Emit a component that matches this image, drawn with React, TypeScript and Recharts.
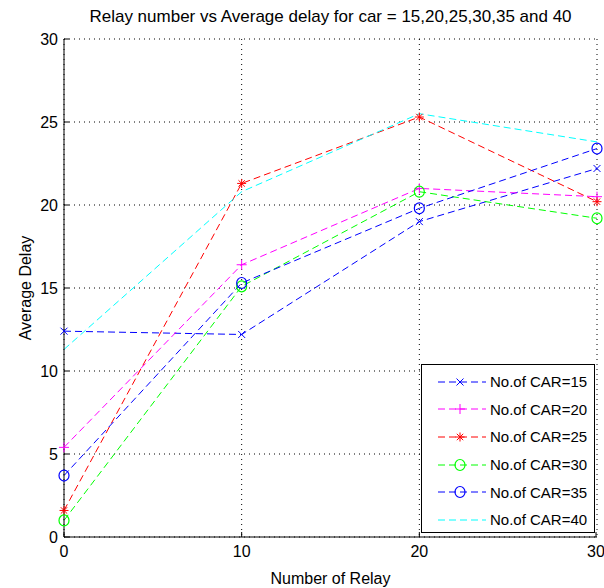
import React from 'react';
import { LineChart, Line, XAxis, YAxis, CartesianGrid } from 'recharts';

const relays = [0, 10, 20, 30];
const car15 = [12.4, 12.2, 19.0, 22.2];
const car20 = [5.4, 16.4, 21.0, 20.5];
const car25 = [1.6, 21.3, 25.3, 20.2];
const car30 = [1.0, 15.1, 20.8, 19.2];
const car35 = [3.7, 15.3, 19.8, 23.4];
const car40 = [11.3, 20.8, 25.5, 23.8];
const yTicks = [0, 5, 10, 15, 20, 25, 30];

const series = [
  { key: 'c15', name: 'No.of CAR=15', color: '#0000ff', marker: 'x', values: car15 },
  { key: 'c20', name: 'No.of CAR=20', color: '#ff00ff', marker: '+', values: car20 },
  { key: 'c25', name: 'No.of CAR=25', color: '#ff0000', marker: '*', values: car25 },
  { key: 'c30', name: 'No.of CAR=30', color: '#00ff00', marker: 'o', values: car30 },
  { key: 'c35', name: 'No.of CAR=35', color: '#0000ff', marker: 'o', values: car35 },
  { key: 'c40', name: 'No.of CAR=40', color: '#00ffff', marker: 'none', values: car40 },
];

const data = relays.map((r, i) => {
  const row: any = { relay: r };
  series.forEach((s) => { row[s.key] = s.values[i]; });
  return row;
});

const FONT = "'Liberation Sans', Arial, sans-serif";
const DASH = '7 4';

const Marker = ({ cx, cy, shape, color }: any) => {
  if (shape === 'x') {
    return (
      <g stroke={color} strokeWidth={1}>
        <line x1={cx - 3.5} y1={cy - 3.5} x2={cx + 3.5} y2={cy + 3.5} />
        <line x1={cx - 3.5} y1={cy + 3.5} x2={cx + 3.5} y2={cy - 3.5} />
      </g>
    );
  }
  if (shape === '+') {
    return (
      <g stroke={color} strokeWidth={1}>
        <line x1={cx - 5} y1={cy} x2={cx + 5} y2={cy} />
        <line x1={cx} y1={cy - 5} x2={cx} y2={cy + 5} />
      </g>
    );
  }
  if (shape === '*') {
    return (
      <g stroke={color} strokeWidth={1}>
        <line x1={cx - 4.5} y1={cy} x2={cx + 4.5} y2={cy} />
        <line x1={cx} y1={cy - 4.5} x2={cx} y2={cy + 4.5} />
        <line x1={cx - 3.2} y1={cy - 3.2} x2={cx + 3.2} y2={cy + 3.2} />
        <line x1={cx - 3.2} y1={cy + 3.2} x2={cx + 3.2} y2={cy - 3.2} />
      </g>
    );
  }
  if (shape === 'o') {
    return <ellipse cx={cx} cy={cy} rx={5} ry={5.5} fill="none" stroke={color} strokeWidth={1.2} />;
  }
  return <g />;
};

const makeDot = (shape: string, color: string) => (props: any) => (
  <Marker key={`${shape}-${color}-${props.index}`} cx={props.cx} cy={props.cy} shape={shape} color={color} />
);

const LegendBox = () => (
  <div
    style={{
      position: 'absolute',
      left: 421,
      top: 364,
      width: 174,
      height: 169,
      border: '1px solid #000',
      background: '#fff',
      boxSizing: 'border-box',
      fontFamily: FONT,
      fontSize: 15,
      color: '#000',
      paddingTop: 3,
      whiteSpace: 'nowrap',
    }}
  >
    {series.map((s) => (
      <div key={s.key} style={{ display: 'flex', alignItems: 'center', height: 27.6 }}>
        <svg width={66} height={20} style={{ marginLeft: 2 }}>
          <line x1={14} y1={10} x2={62} y2={10} stroke={s.color} strokeDasharray={DASH} strokeWidth={1} />
          <Marker cx={36} cy={10} shape={s.marker} color={s.color} />
        </svg>
        <span>{s.name}</span>
      </div>
    ))}
  </div>
);

const BottomTick = ({ x, y, payload }: any) => (
  <g>
    <line x1={x} y1={y - 8} x2={x} y2={y - 13} stroke="#000" />
    <text x={x} y={y} dy="0.75em" textAnchor="middle" fontFamily={FONT} fontSize={16} fill="#000">
      {payload.value}
    </text>
  </g>
);

const LeftTick = ({ x, y, payload }: any) => (
  <g>
    <line x1={x + 6} y1={y} x2={x + 11} y2={y} stroke="#000" />
    <text x={x} y={y} dy="0.36em" textAnchor="end" fontFamily={FONT} fontSize={16} fill="#000">
      {payload.value}
    </text>
  </g>
);

const TopTick = ({ x, y }: any) => <line x1={x} y1={y} x2={x} y2={y + 5} stroke="#000" />;
const RightTick = ({ x, y }: any) => <line x1={x} y1={y} x2={x - 5} y2={y} stroke="#000" />;

const App: React.FC = () => {
  return (
    <div style={{ position: 'absolute', left: 0, top: 0, width: 604, height: 588, background: '#fff' }}>
      <div
        style={{
          position: 'absolute',
          left: 64,
          top: 7,
          width: 533,
          textAlign: 'center',
          fontFamily: FONT,
          fontSize: 17,
          color: '#000',
          whiteSpace: 'nowrap',
        }}
      >
        Relay number vs Average delay for car = 15,20,25,30,35 and 40
      </div>
      <LineChart width={604} height={588} data={data} margin={{ top: 39, right: 7, bottom: 6, left: 0 }}>
        <CartesianGrid stroke="#000" strokeDasharray="1 4" />
        <XAxis
          dataKey="relay"
          type="number"
          domain={[0, 30]}
          ticks={relays}
          height={45}
          stroke="#000"
          tickSize={0}
          tickMargin={8}
          tickLine={false}
          tick={<BottomTick />}
          label={{
            content: ({ viewBox }: any) => (
              <text
                x={viewBox.x + viewBox.width / 2}
                y={viewBox.y + 47}
                textAnchor="middle"
                fontFamily={FONT}
                fontSize={16}
                fill="#000"
              >
                Number of Relay
              </text>
            ),
          }}
        />
        <XAxis
          xAxisId="top"
          orientation="top"
          dataKey="relay"
          type="number"
          domain={[0, 30]}
          ticks={relays}
          allowDataOverflow
          height={0}
          stroke="#000"
          tickSize={0}
          tickMargin={0}
          tickLine={false}
          tick={<TopTick />}
        />
        <YAxis
          type="number"
          domain={[0, 30]}
          ticks={yTicks}
          width={64}
          stroke="#000"
          tickSize={0}
          tickMargin={6}
          tickLine={false}
          tick={<LeftTick />}
          label={{
            content: ({ viewBox }: any) => {
              const cx = viewBox.x + 31;
              const cy = viewBox.y + viewBox.height / 2;
              return (
                <text
                  x={cx}
                  y={cy}
                  transform={`rotate(-90 ${cx} ${cy})`}
                  textAnchor="middle"
                  fontFamily={FONT}
                  fontSize={16}
                  fill="#000"
                >
                  Average Delay
                </text>
              );
            },
          }}
        />
        <YAxis
          yAxisId="right"
          orientation="right"
          type="number"
          domain={[0, 30]}
          ticks={yTicks}
          allowDataOverflow
          width={0}
          stroke="#000"
          tickSize={0}
          tickMargin={0}
          tickLine={false}
          tick={<RightTick />}
        />
        {series.map((s) => (
          <Line
            key={s.key}
            dataKey={s.key}
            name={s.name}
            type="linear"
            stroke={s.color}
            strokeWidth={1}
            strokeDasharray={DASH}
            dot={s.marker === 'none' ? false : makeDot(s.marker, s.color)}
            activeDot={false}
            isAnimationActive={false}
          />
        ))}
      </LineChart>
      <LegendBox />
    </div>
  );
};

export default App;
